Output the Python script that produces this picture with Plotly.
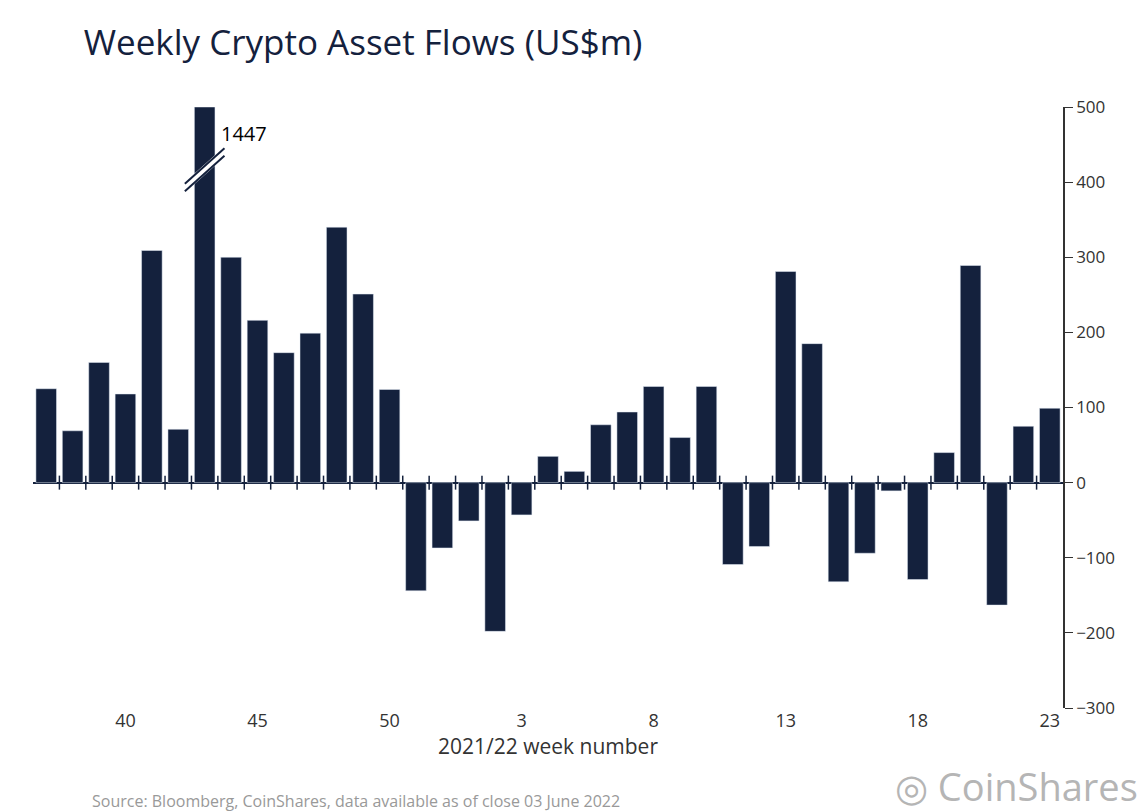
import plotly.graph_objects as go

weeks = [37, 38, 39, 40, 41, 42, 43, 44, 45, 46, 47, 48, 49, 50, 51, 52,
         1, 2, 3, 4, 5, 6, 7, 8, 9, 10, 11, 12, 13, 14, 15, 16, 17, 18, 19, 20, 21, 22, 23]
flows = [125, 69, 160, 118, 309, 71, 1447, 300, 216, 173, 199, 340, 251, 124, -144, -87,
         -51, -198, -43, 35, 15, 77, 94, 128, 60, 128, -109, -85, 281, 185, -132, -94, -11, -129, 40, 289, -163, 75, 99]
tick_weeks = [40, 45, 50, 3, 8, 13, 18, 23]

navy = "#14213d"
cap = 500
idx = list(range(len(weeks)))
shown = [min(v, cap) for v in flows]

fig = go.Figure()
fig.add_bar(x=idx, y=shown, marker_color=navy, width=0.78, hoverinfo="skip")
# tick marks along the zero line
fig.add_scatter(x=[i + 0.5 for i in idx[:-1]], y=[0] * (len(idx) - 1), mode="markers",
                marker=dict(symbol="line-ns-open", size=10, color=navy,
                            line=dict(color=navy, width=1.5)),
                hoverinfo="skip")

big = flows.index(max(flows))
# axis break on the clipped bar
fig.add_shape(type="line", x0=big - 0.75, x1=big + 0.75, y0=393, y1=440,
              line=dict(color="white", width=8), layer="above")
for off in (-5, 5):
    fig.add_shape(type="line", x0=big - 0.75, x1=big + 0.75, y0=393 + off, y1=440 + off,
                  line=dict(color=navy, width=2), layer="above")
fig.add_annotation(x=big + 0.55, y=465, text=str(max(flows)), showarrow=False,
                   xanchor="left", font=dict(size=20, color="black"))

ticktext = [str(w) for w in tick_weeks]
tickvals = [weeks.index(w) for w in tick_weeks]

fig.update_layout(
    width=1147, height=812, showlegend=False, bargap=0.2,
    plot_bgcolor="white", paper_bgcolor="white",
    margin=dict(l=25, r=92, t=99, b=112),
    font=dict(family="Open Sans", color="#333"),
    title=dict(text="Weekly Crypto Asset Flows (US$m)", x=0.066, xanchor="left",
               y=0.957, yanchor="middle", font=dict(size=35, color=navy)),
    xaxis=dict(tickvals=tickvals, ticktext=ticktext, range=[-0.5, len(weeks) - 0.5],
               showgrid=False, zeroline=False, showline=False, ticks="",
               tickfont=dict(size=18, color="#333"),
               title=dict(text="2021/22 week number", font=dict(size=21, color="#333"), standoff=8)),
    yaxis=dict(side="right", range=[-300, 500], dtick=100, showgrid=False,
               zeroline=True, zerolinecolor=navy, zerolinewidth=1.5,
               showline=True, linecolor="#333", linewidth=1.5, ticks="outside", ticklen=8,
               tickcolor="#333", tickfont=dict(size=17, color="#333")),
)
fig.add_annotation(xref="paper", yref="paper", x=0.055, y=-0.155, yanchor="middle", xanchor="left",
                   text="Source: Bloomberg, CoinShares, data available as of close 03 June 2022",
                   showarrow=False, font=dict(size=16, color="#999"))
fig.add_annotation(xref="paper", yref="paper", x=1.075, y=-0.13, xanchor="right", yanchor="middle",
                   text="◎ CoinShares", showarrow=False, font=dict(size=38, color="#b5b5b5"))
fig.write_html("out.html")
